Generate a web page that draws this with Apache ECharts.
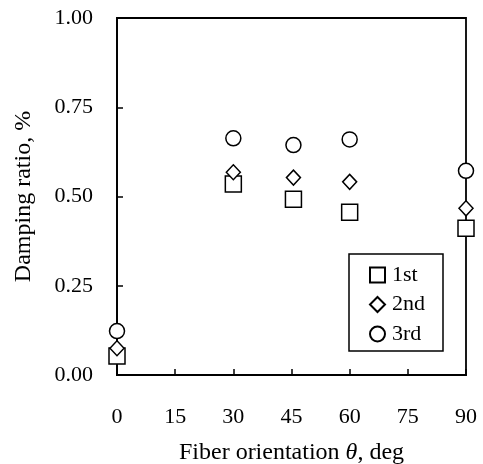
<!DOCTYPE html>
<html><head><meta charset="utf-8">
<script src="https://cdn.jsdelivr.net/npm/echarts@6/dist/echarts.min.js"></script>
<style>html,body{margin:0;padding:0;background:#fff}#c{width:483px;height:464px}</style>
</head><body><div id="c"></div>
<script>
const angles = [0, 30, 45.5, 60, 90];
const first = [0.053, 0.535, 0.492, 0.456, 0.411];
const second = [0.075, 0.568, 0.553, 0.541, 0.467];
const third = [0.123, 0.663, 0.644, 0.660, 0.572];
const xTicks = [0, 15, 30, 45, 60, 75, 90];
const yTicks = [0, 0.25, 0.5, 0.75, 1.0];
const seriesNames = ['1st', '2nd', '3rd'];

const font = 'Liberation Serif';
const pts = arr => arr.map((v, i) => [angles[i], v]);
const mk = (name, data, symbol, size) => ({
  name, type: 'scatter', data: pts(data), symbol, symbolSize: size,
  itemStyle: {color: '#fff', borderColor: '#000', borderWidth: 1.5, opacity: 1},
  emphasis: {disabled: true}
});
const chart = echarts.init(document.getElementById('c'), null, {renderer: 'canvas'});
chart.setOption({
  animation: false,
  backgroundColor: '#fff',
  grid: {left: 117, right: 17, top: 18, bottom: 89, show: true, borderColor: '#000', borderWidth: 1.8,
         containLabel: false, outerBoundsMode: 'none'},
  xAxis: {
    type: 'value', min: 0, max: 90, interval: 15,
    name: 'Fiber orientation {i|θ}, deg', nameLocation: 'middle', nameGap: 66,
    nameTextStyle: {fontFamily: font, fontSize: 24, color: '#000', rich: {i: {fontFamily: font, fontStyle: 'italic', fontSize: 24, color: '#000'}}},
    axisLine: {lineStyle: {color: '#000', width: 1.8}},
    axisTick: {inside: true, length: 6, lineStyle: {color: '#000', width: 1.5}},
    axisLabel: {fontFamily: font, fontSize: 22, color: '#000', margin: 31, formatter: v => xTicks.includes(v) ? String(v) : ''},
    splitLine: {show: false}
  },
  yAxis: {
    type: 'value', min: 0, max: 1, interval: 0.25,
    name: 'Damping ratio, %', nameLocation: 'middle', nameGap: 81,
    nameTextStyle: {fontFamily: font, fontSize: 24, color: '#000'},
    axisLine: {lineStyle: {color: '#000', width: 1.8}},
    axisTick: {inside: true, length: 6, lineStyle: {color: '#000', width: 1.5}},
    axisLabel: {fontFamily: font, fontSize: 22, color: '#000', margin: 24, formatter: v => yTicks.includes(v) ? v.toFixed(2) : ''},
    splitLine: {show: false}
  },
  legend: {
    orient: 'vertical', left: 349, top: 254,
    padding: [10, 18, 6, 20], itemGap: 7.5,
    borderColor: '#000', borderWidth: 1.5, backgroundColor: '#fff',
    itemWidth: 15, itemHeight: 15,
    textStyle: {fontFamily: font, fontSize: 22, color: '#000', padding: [0, 0, 0, 2]},
    data: seriesNames
  },
  series: [
    mk(seriesNames[0], first, 'rect', [16, 16]),
    mk(seriesNames[1], second, 'diamond', [14, 15]),
    mk(seriesNames[2], third, 'circle', 15)
  ]
});
</script></body></html>
